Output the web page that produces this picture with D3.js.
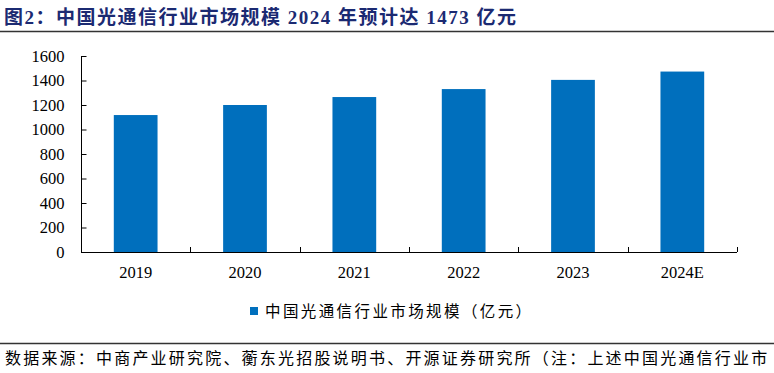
<!DOCTYPE html>
<html>
<head>
<meta charset="utf-8">
<script src="https://cdn.jsdelivr.net/npm/d3@7"></script>
<style>
  body { margin: 0; background: #fff; }
  svg { display: block; }
</style>
</head>
<body>
<div id="chart"></div>
<script>
// chart data
var years = ["2019", "2020", "2021", "2022", "2023", "2024E"];
var marketSize = [1118, 1200, 1265, 1330, 1405, 1473];
var yTicks = [0, 200, 400, 600, 800, 1000, 1200, 1400, 1600];

var titleText = "图2：中国光通信行业市场规模 2024 年预计达 1473 亿元";
var legendText = "中国光通信行业市场规模（亿元）";
// the reference cuts the note off at the right edge
var sourceText = "数据来源：中商产业研究院、蘅东光招股说明书、开源证券研究所（注：上述中国光通信行业市";

var width = 774, height = 373;
var margin = { top: 56, left: 81, right: 37, bottom: 121 };
var innerH = height - margin.top - margin.bottom;

var svg = d3.select("#chart").append("svg")
  .attr("width", width)
  .attr("height", height);

var serif = "'Liberation Serif', 'Times New Roman', serif";
var cjk = "'Noto Sans CJK SC', sans-serif";

// title
svg.append("text")
  .attr("x", 4)
  .attr("y", 24)
  .attr("fill", "#1b2a72")
  .style("font-family", serif + ", 'Noto Sans CJK SC'")
  .style("font-size", "19px")
  .style("font-weight", "bold")
  .style("letter-spacing", "1.5px")
  .text(titleText);

svg.append("line")
  .attr("x1", 0).attr("x2", width)
  .attr("y1", 31.5).attr("y2", 31.5)
  .attr("stroke", "#333").attr("stroke-width", 1.5);

// scales
var xScale = d3.scaleBand()
  .domain(years)
  .range([margin.left, width - margin.right])
  .paddingInner(0.6)
  .paddingOuter(0.3);

var yScale = d3.scaleLinear()
  .domain([0, 1600])
  .range([margin.top + innerH, margin.top]);

// bars
svg.selectAll("rect.bar")
  .data(marketSize)
  .enter().append("rect")
  .attr("class", "bar")
  .attr("x", (d, i) => xScale(years[i]))
  .attr("y", d => yScale(d))
  .attr("width", xScale.bandwidth())
  .attr("height", d => yScale(0) - yScale(d))
  .attr("fill", "#006fbd");

// y axis
var yAxis = svg.append("g")
  .attr("transform", `translate(${margin.left + 0.5},0)`)
  .call(d3.axisLeft(yScale).tickValues(yTicks).tickFormat(d3.format("d")).tickSize(-5).tickPadding(17));
yAxis.selectAll("text")
  .style("font-family", serif)
  .style("font-size", "16.5px")
  .attr("fill", "#000");
yAxis.selectAll("line, path").attr("stroke", "#000");
yAxis.select(".domain").attr("d", `M0,${yScale(1600)}V${yScale(0)}`);

// x axis: boundary ticks pointing up
var step = xScale.step();
var xStart = margin.left;
var boundaries = d3.range(years.length + 1).map(i => xStart + i * step);
svg.append("line")
  .attr("x1", margin.left).attr("x2", boundaries[boundaries.length - 1])
  .attr("y1", yScale(0) + 0.5).attr("y2", yScale(0) + 0.5)
  .attr("stroke", "#000");
svg.selectAll("line.xtick")
  .data(boundaries.slice(1))
  .enter().append("line")
  .attr("class", "xtick")
  .attr("x1", d => Math.round(d) + 0.5).attr("x2", d => Math.round(d) + 0.5)
  .attr("y1", yScale(0)).attr("y2", yScale(0) - 5)
  .attr("stroke", "#000");

svg.selectAll("text.xlab")
  .data(years)
  .enter().append("text")
  .attr("class", "xlab")
  .attr("x", d => xScale(d) + xScale.bandwidth() / 2)
  .attr("y", 278)
  .attr("text-anchor", "middle")
  .style("font-family", serif)
  .style("font-size", "16.5px")
  .text(d => d);

// legend
svg.append("rect")
  .attr("x", 250).attr("y", 307)
  .attr("width", 8).attr("height", 8)
  .attr("fill", "#006fbd");
svg.append("text")
  .attr("x", 265).attr("y", 317)
  .style("font-family", cjk)
  .style("font-size", "15.5px")
  .style("letter-spacing", "2.4px")
  .text(legendText);

// source
svg.append("line")
  .attr("x1", 0).attr("x2", width)
  .attr("y1", 343.5).attr("y2", 343.5)
  .attr("stroke", "#333").attr("stroke-width", 1.5);
svg.append("text")
  .attr("x", 5).attr("y", 364)
  .style("font-family", cjk)
  .style("font-size", "16px")
  .style("letter-spacing", "2.2px")
  .text(sourceText);
</script>
</body>
</html>
